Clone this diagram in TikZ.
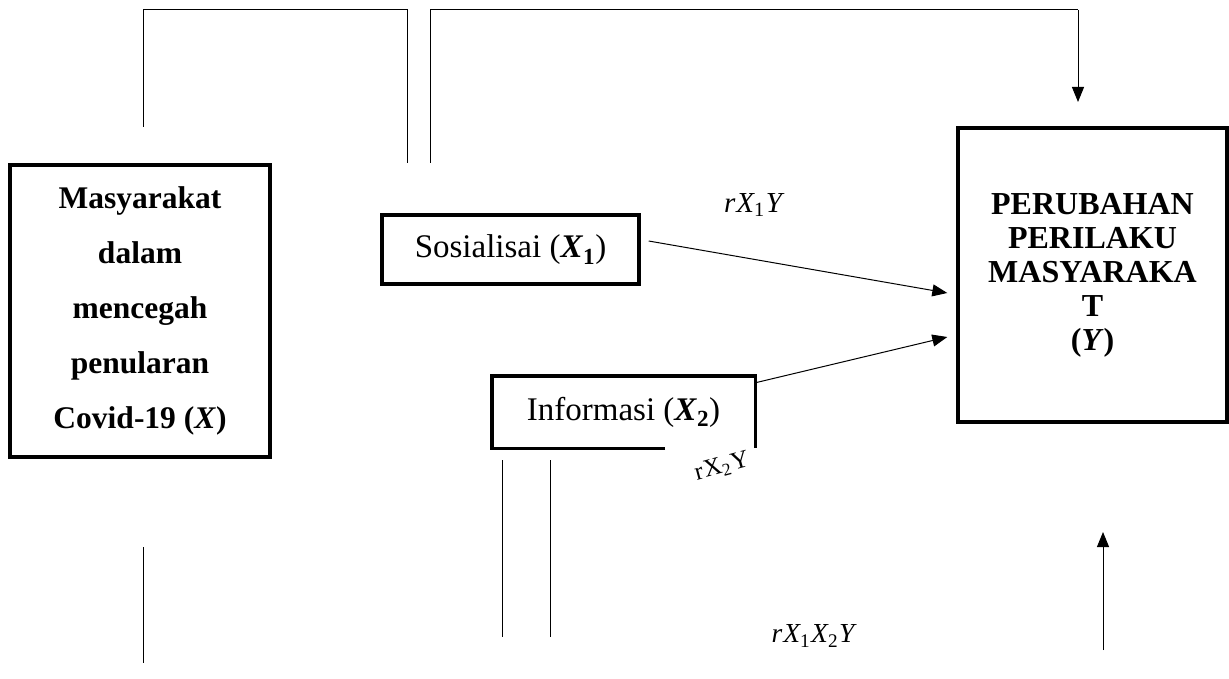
\documentclass[tikz,border=0pt]{standalone}
\usepackage{fontspec}
\setmainfont{Liberation Serif}
\usetikzlibrary{arrows.meta,calc}
\tikzset{
  thickbox/.style={draw, line width=3.4pt, inner sep=0pt, align=center},
  thin/.style={line width=1pt},
  arr/.style={line width=1pt, -{Triangle[length=15pt,width=12pt]}},
  lbl/.style={inner sep=1pt, font=\fontsize{29}{31}\selectfont\itshape}
}
\begin{document}
\begin{tikzpicture}[x=1pt,y=-1pt]
\useasboundingbox (0,0) rectangle (1229,679);
% boxes
\node[thickbox, minimum width=260pt, minimum height=292pt,
  font=\fontsize{31.5}{55}\selectfont\bfseries] (X) at (140,311)
  {Masyarakat\\dalam\\mencegah\\penularan\\Covid-19 (\textit{X})};
\node[thickbox, minimum width=269pt, minimum height=294pt,
  font=\fontsize{32}{34}\selectfont\bfseries] (Y) at (1092.5,275)
  {PERUBAHAN\\PERILAKU\\MASYARAKA\\T\\(\textit{Y})};
\node[thickbox, minimum width=257pt, minimum height=69pt,
  font=\fontsize{33}{35}\selectfont] (sos) at (510.5,249.5)
  {Sosialisai (\textbf{\textit{X}}\textsubscript{\textbf{1}})};
\node[inner sep=0pt, minimum width=263pt, minimum height=72pt,
  font=\fontsize{33}{35}\selectfont] (info) at (623.5,412)
  {Informasi (\textbf{\textit{X}}\textsubscript{\textbf{2}})};
\draw[line width=3.4pt] ([xshift=-90pt]info.south east) -| (info.north west) -| (info.south east);
% arrows into Y
\draw[arr] ([shift={(8,-8.5)}]sos.east) -- ([shift={(-9,18)}]Y.west);
\draw[arr] ([shift={(0,7)}]info.north east) -- ([shift={(-9,62)}]Y.west);
% top connectors
\coordinate (a1) at (143,127);
\coordinate (a2) at (143,10);
\coordinate (a3) at (407,10);
\coordinate (a4) at (407,163);
\coordinate (b1) at (430,163);
\coordinate (b2) at (430,10);
\coordinate (b3) at (1078,10);
\coordinate (b4) at (1078,102);
\draw[thin] (a1) -- (a2) -- (a3) -- (a4);
\draw[thin] (b1) -- (b2) -- (b3);
\draw[arr] (b3) -- (b4);
% bottom connectors
\coordinate (c1) at (143,547);
\coordinate (c2) at (143,663);
\draw[thin] (c1) -- (c2);
\coordinate (d1) at (502,460);
\coordinate (d2) at (502,637);
\coordinate (e1) at (550,460);
\coordinate (e2) at (550,637);
\draw[thin] (d1) -- (d2);
\draw[thin] (e1) -- (e2);
\coordinate (f1) at (1103,650);
\coordinate (f2) at (1103,532);
\draw[arr] (f1) -- (f2);
% labels
\node[lbl] (l1) at (753,205) {r\kern1ptX\textsubscript{\upshape 1}\kern1ptY};
\node[lbl, font=\fontsize{25}{27}\selectfont\upshape, rotate=15] (l2) at (722,467) {r\kern1ptX\textsubscript{2}\kern1ptY};
\node[lbl, font=\fontsize{27.5}{29}\selectfont\itshape] (l3) at (813,636) {r\kern1ptX\textsubscript{\upshape 1}\kern1ptX\textsubscript{\upshape 2}\kern1ptY};
\end{tikzpicture}
\end{document}
